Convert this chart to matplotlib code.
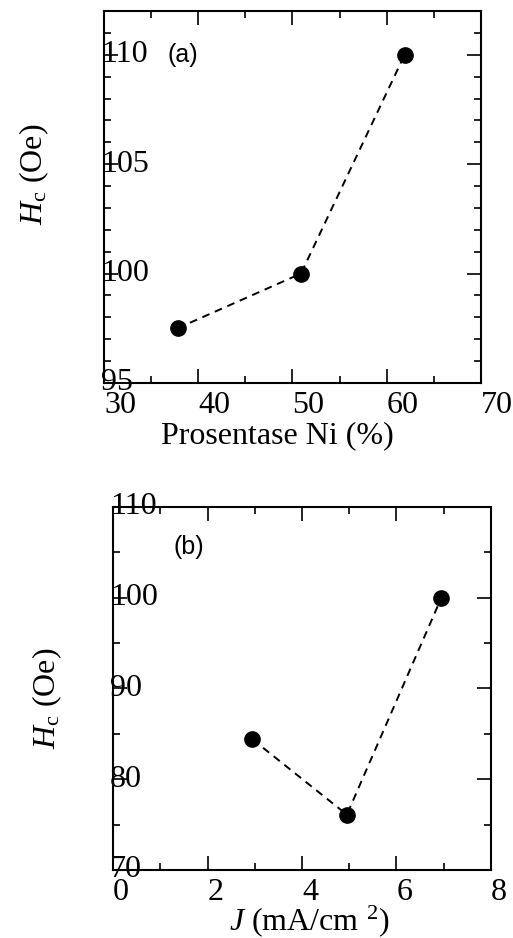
import matplotlib
matplotlib.use("Agg")
import matplotlib.pyplot as plt
from matplotlib.ticker import MultipleLocator

# Data
ni_percent = [37.8, 50.9, 61.9]
hc_a = [97.5, 100.0, 110.0]
current_density = [2.95, 4.95, 6.95]
hc_b = [84.4, 76.1, 100.0]

xticks_a = [30, 40, 50, 60, 70]
yticks_a = [95, 100, 105, 110]
xticks_b = [0, 2, 4, 6, 8]
yticks_b = [70, 80, 90, 100, 110]

plt.rcParams['font.family'] = ['Liberation Serif', 'DejaVu Serif']
plt.rcParams['mathtext.fontset'] = 'custom'
plt.rcParams['mathtext.rm'] = 'Liberation Serif'
plt.rcParams['mathtext.it'] = 'Liberation Serif:italic'

fig = plt.figure(figsize=(5.13, 9.38), dpi=100)
ax1 = fig.add_axes([0.2027, 0.5917, 0.7349, 0.3966])
ax2 = fig.add_axes([0.2203, 0.0725, 0.7368, 0.387])

TICK_FS = 23
LABEL_FS = 23


def style(ax, xmin, ymin, xt, yt):
    for s in ax.spines.values():
        s.set_linewidth(1.5)
    ax.xaxis.set_minor_locator(MultipleLocator(xmin))
    ax.yaxis.set_minor_locator(MultipleLocator(ymin))
    ax.set_xticks(xt)
    ax.set_yticks(yt)
    ax.tick_params(which='both', direction='in', top=True, right=True, width=1.2)
    ax.tick_params(which='major', length=10)
    ax.tick_params(which='minor', length=5)
    ax.tick_params(axis='x', which='major', labelsize=TICK_FS, pad=6)
    ax.tick_params(axis='y', which='major', labelsize=TICK_FS, pad=2)
    for lab in ax.get_xticklabels():
        lab.set_horizontalalignment('left')
    for lab in ax.get_yticklabels():
        lab.set_horizontalalignment('left')
        lab.set_verticalalignment('center')


line_kw = dict(color='black', linestyle=(0, (4, 3)), linewidth=1.4,
               marker='o', markersize=11, markerfacecolor='black',
               markeredgecolor='black')

# Panel (a)
ax1.plot(ni_percent, hc_a, **line_kw)
ax1.set_xlim(30, 70)
ax1.set_ylim(95, 112)
style(ax1, 5, 1, xticks_a, yticks_a)
ax1.set_xlabel('Prosentase Ni (%)', fontsize=LABEL_FS)
ax1.xaxis.set_label_coords(0.461, -0.143)
ax1.xaxis.label.set_verticalalignment('center')
ax1.set_ylabel(r'$H_{\rm c}$ (Oe)', fontsize=LABEL_FS)
ax1.yaxis.set_label_coords(-0.184, 0.562)
ax1.yaxis.label.set_verticalalignment('center')
ax1.text(36.7, 110.0, '(a)', fontsize=18, family=['Liberation Sans', 'DejaVu Sans'],
         ha='left', va='center')

# Panel (b)
ax2.plot(current_density, hc_b, **line_kw)
ax2.set_xlim(0, 8)
ax2.set_ylim(70, 110)
style(ax2, 1, 5, xticks_b, yticks_b)
ax2.set_xlabel(r'$J$ (mA/cm $^{2}$)', fontsize=LABEL_FS)
ax2.xaxis.set_label_coords(0.519, -0.14)
ax2.xaxis.label.set_verticalalignment('center')
ax2.set_ylabel(r'$H_{\rm c}$ (Oe)', fontsize=LABEL_FS)
ax2.yaxis.set_label_coords(-0.175, 0.474)
ax2.yaxis.label.set_verticalalignment('center')
ax2.text(1.29, 105.6, '(b)', fontsize=18, family=['Liberation Sans', 'DejaVu Sans'],
         ha='left', va='center')

fig.savefig('out.png', dpi=100)
